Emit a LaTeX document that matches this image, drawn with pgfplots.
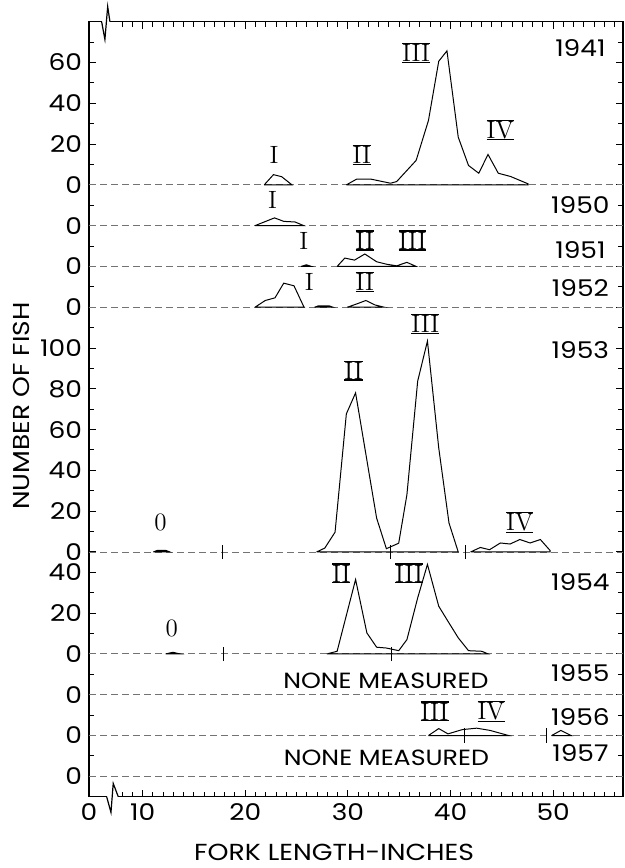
\documentclass[border=0pt]{standalone}
\usepackage{fontspec}
\setsansfont[FakeStretch=1.15]{Poppins}
\usepackage{pgfplots}
\pgfplotsset{compat=1.18}
\newcommand\rn[1]{{\setbox0\hbox{\rmfamily #1}\vbox{\hrule height .6pt width \wd0 \kern .2pt \copy0 \kern .1pt \hrule height .6pt}}}
\newcommand\nf{\sffamily\fontsize{11.5}{12}\selectfont}
\pgfplotsset{
  cv/.style={black, line width=0.5pt, mark=none},
  bl/.style={black!55, line width=0.45pt, dash pattern=on 3.3pt off 2.2pt, mark=none},
}
\tikzset{rl/.style={font=\fontsize{12.5}{12.5}\selectfont, inner sep=0pt}}
\begin{document}
\begin{tikzpicture}
\useasboundingbox (-44.5pt,-35.65pt) rectangle (268pt,398.35pt);
\begin{axis}[
  scale only axis, width=267pt, height=387.5pt,
  xmin=4.78, xmax=56.8, ymin=0, ymax=380,
  clip=false,
  axis line style={line width=0.6pt},
  xtick={4.78,10,20,30,40,50},
  xticklabels={0,10,20,30,40,50},
  minor xtick={8,9,...,56},
  ytick={10,30,50,70,90,110,120,140,160,180,200,220,240,260,280,300,320,340,360},
  yticklabels={0,0,0,0,20,40,0,20,40,60,80,100,0,0,0,0,20,40,60},
  minor ytick={20,40,60,80,100,130,150,170,190,210,230,250,270,290,310,330,350,370},
  tick style={draw=black, line width=0.5pt},
  major tick length=3.5pt, minor tick length=2.5pt,
  /pgf/number format/assume math mode=true,
  ticklabel style={font=\nf},
  xlabel={FORK LENGTH-INCHES},
  ylabel={NUMBER OF FISH},
  xlabel style={font=\sffamily\fontsize{11.6}{12}\selectfont, at={(axis description cs:0.459,-0.0714)}, anchor=center},
  ylabel style={font=\sffamily\fontsize{11.5}{12}\selectfont, at={(axis description cs:-0.1273,0.504)}, anchor=center},
]
% dashed baselines
\addplot[bl] coordinates {(4.78,300) (56.8,300)};
\addplot[bl] coordinates {(4.78,280) (56.8,280)};
\addplot[bl] coordinates {(4.78,260) (56.8,260)};
\addplot[bl] coordinates {(4.78,240) (56.8,240)};
\addplot[bl] coordinates {(4.78,120) (56.8,120)};
\addplot[bl] coordinates {(4.78,70) (56.8,70)};
\addplot[bl] coordinates {(4.78,50) (56.8,50)};
\addplot[bl] coordinates {(4.78,30) (56.8,30)};
\addplot[bl] coordinates {(4.78,10) (56.8,10)};

% 1941
\addplot[cv, y filter/.expression={y+300}] coordinates {(21.85,0) (22.75,5) (23.55,4) (24.55,0) (21.85,0)};
\addplot[cv, y filter/.expression={y+300}] coordinates {(29.85,0) (30.85,2.8) (32.25,2.8) (34.15,0.8) (34.75,1.6) (36.65,12) (37.85,31.6) (38.85,60.6) (39.65,65.7) (40.75,23.4) (41.75,9.5) (42.75,5.7) (43.65,14.9) (44.65,5.7) (45.85,4.1) (47.55,0.5) (47.55,0) (29.85,0)};
% 1950
\addplot[cv, y filter/.expression={y+280}] coordinates {(20.95,0) (22.85,3.8) (23.75,2.1) (24.85,1.8) (25.7,0) (20.95,0)};
% 1951
\addplot[cv, fill=black, y filter/.expression={y+260}] coordinates {(25.45,0) (25.95,0.8) (26.45,0) (25.45,0)};
\addplot[cv, y filter/.expression={y+260}] coordinates {(28.95,0) (29.7,4.1) (30.65,3.1) (31.65,6.1) (32.8,2.3) (33.75,1.1) (34.75,0.3) (35.75,2.0) (36.65,0) (28.95,0)};
% 1952
\addplot[cv, y filter/.expression={y+240}] coordinates {(20.95,0) (21.95,3.3) (22.9,4.6) (23.75,11.8) (24.75,10.5) (25.7,0.3) (25.75,0) (20.95,0)};
\addplot[cv, y filter/.expression={y+240}] coordinates {(26.75,0) (27.15,0.7) (28.15,0.7) (28.55,0) (26.75,0)};
\addplot[cv, y filter/.expression={y+240}] coordinates {(29.95,0) (30.85,1.6) (31.75,3.3) (32.65,1.1) (33.55,0) (29.95,0)};
% 1953
\addplot[cv, fill=black, y filter/.expression={y+120}] coordinates {(11.05,0) (11.45,0.8) (12.25,0.8) (12.65,0) (11.05,0)};
\addplot[cv, y filter/.expression={y+120}] coordinates {(26.95,0) (27.75,1.9) (28.75,9.7) (29.85,67.7) (30.75,78.0) (32.25,33) (32.8,16.6) (33.75,1.6) (34.95,4.3) (35.75,28.1) (36.8,83.8) (37.75,103.4) (38.85,51) (39.85,14.2) (40.75,0) (26.95,0)};
\addplot[cv, y filter/.expression={y+120}] coordinates {(41.95,0) (42.9,2.2) (43.8,1.1) (44.85,4.4) (45.8,3.9) (46.75,6.1) (47.75,4.4) (48.75,6.1) (49.7,0.7) (49.7,0) (41.95,0)};
\addplot[cv, y filter/.expression={y+120}] coordinates {(17.75,-3.5) (17.75,3.5)};
\addplot[cv, y filter/.expression={y+120}] coordinates {(34.15,-3.5) (34.15,3.5)};
\addplot[cv, y filter/.expression={y+120}] coordinates {(41.45,-3.5) (41.45,3.5)};
% 1954
\addplot[cv, fill=black, y filter/.expression={y+70}] coordinates {(12.25,0) (12.95,0.8) (13.65,0) (12.25,0)};
\addplot[cv, y filter/.expression={y+70}] coordinates {(27.95,0) (28.95,1.3) (30.75,36.5) (31.85,10.3) (32.8,3.3) (33.75,2.9) (34.95,1.6) (35.75,7.0) (36.8,27.5) (37.75,43.9) (38.85,23.4) (39.75,16) (40.75,7.9) (41.75,1.6) (43.05,1.3) (43.65,0) (27.95,0)};
\addplot[cv, y filter/.expression={y+70}] coordinates {(17.85,-3.5) (17.85,3.5)};
\addplot[cv, y filter/.expression={y+70}] coordinates {(34.25,-3.5) (34.25,3.5)};
% 1956
\addplot[cv, y filter/.expression={y+30}] coordinates {(37.85,0) (38.85,3.4) (39.75,0.8) (41.15,2.9) (42.55,3.6) (43.85,2.5) (45.65,0) (37.85,0)};
\addplot[cv, y filter/.expression={y+30}] coordinates {(49.85,0) (50.75,2.5) (51.75,0) (49.85,0)};
\addplot[cv, y filter/.expression={y+30}] coordinates {(41.35,-3.5) (41.35,3.5)};
\addplot[cv, y filter/.expression={y+30}] coordinates {(49.35,-3.5) (49.35,3.5)};

% axis breaks on top and bottom lines
\fill[white] (axis cs:6.03,378.5) rectangle (axis cs:6.8,381.5);
\fill[white] (axis cs:6.52,-1.5) rectangle (axis cs:7.6,1.5);
\draw[line width=0.6pt] (axis cs:6.01,380) -- (axis cs:6.33,371.3) -- (axis cs:6.6,387.4) -- (axis cs:6.82,380);
\draw[line width=0.6pt] (axis cs:6.5,0) -- (axis cs:6.92,-7.7) -- (axis cs:7.14,6.5) -- (axis cs:7.63,0);

% year labels
\node[font=\nf] at (axis cs:52.65,366.9) {1941};
\node[font=\nf] at (axis cs:52.65,290.3) {1950};
\node[font=\nf] at (axis cs:52.65,267.8) {1951};
\node[font=\nf] at (axis cs:52.65,249.3) {1952};
\node[font=\nf] at (axis cs:52.65,219.2) {1953};
\node[font=\nf] at (axis cs:52.65,105.2) {1954};
\node[font=\nf] at (axis cs:52.65,60.6) {1955};
\node[font=\nf] at (axis cs:52.65,39.3) {1956};
\node[font=\nf] at (axis cs:52.65,21.3) {1957};
\node[font=\sffamily\fontsize{11}{11}\selectfont] at (axis cs:33.7,57.0) {NONE MEASURED};
\node[font=\sffamily\fontsize{11}{11}\selectfont] at (axis cs:33.75,18.9) {NONE MEASURED};

% age class labels
\node[rl] at (axis cs:22.8,314.6) {\rmfamily I};
\node[rl] at (axis cs:31.35,314.6) {\rn{II}};
\node[rl] at (axis cs:36.65,364.5) {\rn{III}};
\node[rl] at (axis cs:44.85,326.8) {\rn{IV}};
\node[rl] at (axis cs:22.65,292.4) {\rmfamily I};
\node[rl] at (axis cs:25.7,272.7) {\rmfamily I};
\node[rl] at (axis cs:31.65,272.7) {\rn{II}};
\node[rl] at (axis cs:36.3,272.7) {\rn{III}};
\node[rl] at (axis cs:26.25,252.3) {\rmfamily I};
\node[rl] at (axis cs:31.65,252.3) {\rn{II}};
\node[rl] at (axis cs:37.55,231.8) {\rn{III}};
\node[rl] at (axis cs:30.55,208.9) {\rn{II}};
\node[rl] at (axis cs:46.75,134.4) {\rn{IV}};
\node[rl] at (axis cs:11.75,134.4) {\rmfamily 0};
\node[rl] at (axis cs:29.35,109.5) {\rn{II}};
\node[rl] at (axis cs:35.95,109.5) {\rn{III}};
\node[rl] at (axis cs:12.85,82.5) {\rmfamily 0};
\node[rl] at (axis cs:38.45,41.8) {\rn{III}};
\node[rl] at (axis cs:43.95,41.8) {\rn{IV}};
\end{axis}
\end{tikzpicture}
\end{document}
